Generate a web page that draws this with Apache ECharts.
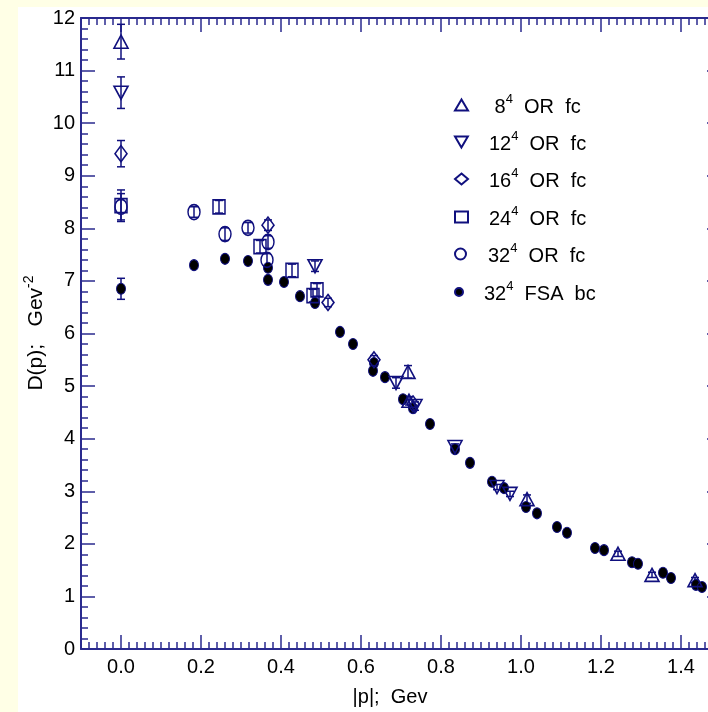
<!DOCTYPE html>
<html>
<head>
<meta charset="utf-8">
<script src="https://cdn.jsdelivr.net/npm/echarts@6/dist/echarts.min.js"></script>
<style>
  html, body { margin: 0; padding: 0; background: #FFFFE6; }
  #chart { width: 708px; height: 712px; }
</style>
</head>
<body>
<div id="chart"></div>
<script>
// ---------- data ----------
const seriesNames = ['8^4 OR fc', '12^4 OR fc', '16^4 OR fc', '24^4 OR fc', '32^4 OR fc', '32^4 FSA bc'];

const x8  = [0, 0.7175, 0.72, 1.015, 1.2425, 1.3275, 1.435];
const y8  = [11.55, 5.27, 4.72, 2.85, 1.81, 1.41, 1.31];
const e8  = [0.33, 0.12, 0.08, 0.08, 0.05, 0.05, 0.05];

const x12 = [0, 0.485, 0.6875, 0.735, 0.835, 0.94, 0.9725];
const y12 = [10.58, 7.28, 5.06, 4.62, 3.84, 3.08, 2.95];
const e12 = [0.30, 0.10, 0.10, 0.08, 0.06, 0.05, 0.05];

const x16 = [0, 0.3675, 0.5175, 0.6325, 0.73];
const y16 = [9.42, 8.06, 6.59, 5.50, 4.66];
const e16 = [0.25, 0.10, 0.08, 0.08, 0.08];

const x24 = [0, 0.245, 0.3475, 0.4275, 0.49, 0.48];
const y24 = [8.43, 8.41, 7.65, 7.20, 6.83, 6.72];
const e24 = [0.30, 0.12, 0.12, 0.12, 0.12, 0.12];

const x32 = [0, 0.1825, 0.26, 0.3175, 0.3675, 0.365];
const y32 = [8.41, 8.31, 7.89, 8.01, 7.74, 7.40];
const e32 = [0.25, 0.10, 0.12, 0.10, 0.12, 0.12];

const xF = [0, 0.1825, 0.26, 0.3175, 0.3675, 0.3675, 0.4075, 0.4475, 0.485, 0.5475, 0.58, 0.6325, 0.63, 0.66, 0.705, 0.73, 0.7725, 0.835, 0.8725, 0.9275, 0.9575, 1.0125, 1.04, 1.09, 1.115, 1.185, 1.2075, 1.2775, 1.2925, 1.355, 1.375, 1.4375, 1.4525];
const yF = [6.85, 7.30, 7.42, 7.38, 7.25, 7.02, 6.98, 6.71, 6.58, 6.03, 5.80, 5.44, 5.29, 5.17, 4.75, 4.58, 4.28, 3.80, 3.54, 3.18, 3.06, 2.70, 2.58, 2.32, 2.21, 1.92, 1.88, 1.65, 1.62, 1.45, 1.35, 1.22, 1.18];
const eF = [0.20];

const xMin = -0.1, xMax = 1.5, yMin = 0, yMax = 12;

// ---------- style ----------
const NAVY = '#10107E';
const AXIS = '#2A2A8E';
const FONT = "'Liberation Sans', Arial, sans-serif";

function pts(xs, ys, es) {
  return xs.map((x, i) => [x, ys[i], es && es[i] != null ? es[i] : 0]);
}

function errRender(params, api) {
  const x = api.value(0), y = api.value(1), e = api.value(2);
  if (!e) return null;
  const t = api.coord([x, y + e]);
  const b = api.coord([x, y - e]);
  const w = 4;
  const st = { stroke: NAVY, lineWidth: 1.5 };
  return {
    type: 'group',
    children: [
      { type: 'line', shape: { x1: t[0], y1: t[1], x2: b[0], y2: b[1] }, style: st },
      { type: 'line', shape: { x1: t[0] - w, y1: t[1], x2: t[0] + w, y2: t[1] }, style: st },
      { type: 'line', shape: { x1: b[0] - w, y1: b[1], x2: b[0] + w, y2: b[1] }, style: st }
    ]
  };
}

const datasets = [
  { name: seriesNames[0], d: pts(x8, y8, e8), symbol: 'triangle', rot: 0, size: [14, 13], filled: false },
  { name: seriesNames[1], d: pts(x12, y12, e12), symbol: 'triangle', rot: 180, size: [14, 13], filled: false },
  { name: seriesNames[2], d: pts(x16, y16, e16), symbol: 'diamond', rot: 0, size: [12, 16], filled: false },
  { name: seriesNames[3], d: pts(x24, y24, e24), symbol: 'rect', rot: 0, size: [12, 14], filled: false },
  { name: seriesNames[4], d: pts(x32, y32, e32), symbol: 'circle', rot: 0, size: [12, 15], filled: false },
  { name: seriesNames[5], d: pts(xF, yF, eF), symbol: 'circle', rot: 0, size: [9, 11], filled: true }
];

const series = [];
datasets.forEach(ds => {
  series.push({
    type: 'custom',
    xAxisIndex: 0, yAxisIndex: 0,
    renderItem: errRender,
    data: ds.d,
    silent: true,
    z: 3
  });
});
datasets.forEach(ds => {
  series.push({
    name: ds.name,
    type: 'scatter',
    xAxisIndex: 0, yAxisIndex: 0,
    symbol: ds.symbol,
    symbolRotate: ds.rot,
    symbolSize: ds.size,
    data: ds.d.map(p => [p[0], p[1]]),
    itemStyle: ds.filled
      ? { color: '#000000', borderColor: NAVY, borderWidth: 1, opacity: 1 }
      : { color: 'rgba(0,0,0,0)', borderColor: NAVY, borderWidth: 1.6, opacity: 1 },
    z: ds.filled ? 4 : 5
  });
});

const legendLabels = [
  ['\u00a08', '4', '  OR  fc'],
  ['12', '4', '  OR  fc'],
  ['16', '4', '  OR  fc'],
  ['24', '4', '  OR  fc'],
  ['32', '4', '  OR  fc'],
  ['32', '4', '  FSA  bc']
];
const legendRowY = [105, 142, 179, 217, 254, 292];

const rich = {
  a: { fontSize: 20, fontFamily: FONT, color: '#000', lineHeight: 24, verticalAlign: 'bottom' },
  s: { fontSize: 13, fontFamily: FONT, color: '#000', lineHeight: 13, padding: [0, 0, 11, 0], verticalAlign: 'bottom' }
};
const richTitle = {
  a: { fontSize: 21, fontFamily: FONT, color: '#000', lineHeight: 24, verticalAlign: 'bottom' },
  s: { fontSize: 14, fontFamily: FONT, color: '#000', lineHeight: 14, padding: [0, 0, 11, 0], verticalAlign: 'bottom' }
};

const legends = seriesNames.map((n, i) => ({
  data: [i === 1 ? { name: n, icon: 'path://M0,0L14,0L7,12Z' } : n],
  left: 454,
  top: legendRowY[i] - 12,
  padding: 0,
  itemWidth: i === 5 ? 8 : 13,
  itemHeight: i === 5 ? 9 : 11,
  selectedMode: false,
  formatter: () => '{a|' + legendLabels[i][0] + '}{s|' + legendLabels[i][1] + '}{a|' + legendLabels[i][2] + '}',
  textStyle: { rich: rich, padding: [0, 0, 0, 16] }
}));

const tickCommon = { show: true, inside: true, lineStyle: { color: AXIS, width: 1.5 } };

const option = {
  backgroundColor: '#FFFFE6',
  animation: false,
  graphic: [
    { type: 'rect', shape: { x: 18, y: 7, width: 700, height: 720 }, style: { fill: '#FFFFFF' }, z: -10, silent: true },
    {
      type: 'text', x: 35, y: 333, rotation: Math.PI / 2,
      style: {
        text: '{a|D(p);   Gev}{s|-2}',
        align: 'center', verticalAlign: 'middle',
        rich: richTitle
      }
    },
    {
      type: 'text', x: 390, y: 697,
      style: { text: '|p|;  Gev', font: '20px ' + FONT, fill: '#000', align: 'center', verticalAlign: 'middle' }
    }
  ],
  legend: legends,
  grid: [
    { left: 81, width: 640, top: 18, bottom: 63, outerBoundsMode: 'none', containLabel: false },
    { left: 121, width: 600, top: 18, bottom: 63, outerBoundsMode: 'none', containLabel: false }
  ],
  xAxis: [
    { // data axis (bottom, fine ticks)
      type: 'value', gridIndex: 0, position: 'bottom', min: xMin, max: xMax, interval: 0.02,
      axisLine: { show: true, onZero: false, lineStyle: { color: AXIS, width: 2 } },
      axisTick: Object.assign({ length: 7 }, tickCommon),
      axisLabel: { show: false }, splitLine: { show: false }
    },
    { // top fine ticks
      type: 'value', gridIndex: 0, position: 'top', min: xMin, max: xMax, interval: 0.02,
      axisLine: { show: true, onZero: false, lineStyle: { color: AXIS, width: 2 } },
      axisTick: Object.assign({ length: 7 }, tickCommon),
      axisLabel: { show: false }, splitLine: { show: false }
    },
    { // bottom major ticks + labels
      type: 'value', gridIndex: 1, position: 'bottom', min: 0, max: xMax, interval: 0.2,
      axisLine: { show: false, onZero: false },
      axisTick: Object.assign({ length: 14 }, tickCommon),
      axisLabel: { show: true, margin: 8, fontSize: 20, fontFamily: FONT, color: '#000', showMaxLabel: false,
        formatter: v => v.toFixed(1) },
      splitLine: { show: false }
    },
    { // top major ticks
      type: 'value', gridIndex: 1, position: 'top', min: 0, max: xMax, interval: 0.2,
      axisLine: { show: false, onZero: false },
      axisTick: Object.assign({ length: 14 }, tickCommon),
      axisLabel: { show: false }, splitLine: { show: false }
    }
  ],
  yAxis: [
    {
      type: 'value', gridIndex: 0, position: 'left', min: yMin, max: yMax, interval: 1,
      axisLine: { show: true, onZero: false, lineStyle: { color: AXIS, width: 2 } },
      axisTick: Object.assign({ length: 14 }, tickCommon),
      minorTick: { show: true, splitNumber: 5, length: 7, lineStyle: { color: AXIS, width: 1.5 } },
      axisLabel: { show: true, margin: 6, fontSize: 20, fontFamily: FONT, color: '#000' },
      splitLine: { show: false }, minorSplitLine: { show: false }
    },
    {
      type: 'value', gridIndex: 0, position: 'right', min: yMin, max: yMax, interval: 1,
      axisLine: { show: true, onZero: false, lineStyle: { color: AXIS, width: 2 } },
      axisTick: Object.assign({ length: 14 }, tickCommon),
      minorTick: { show: true, splitNumber: 5, length: 7, lineStyle: { color: AXIS, width: 1.5 } },
      axisLabel: { show: false }, splitLine: { show: false }
    },
    {
      type: 'value', gridIndex: 1, min: yMin, max: yMax, show: false
    }
  ],
  series: series
};

const chart = echarts.init(document.getElementById('chart'), null, { renderer: 'canvas' });
chart.setOption(option);
</script>
</body>
</html>
